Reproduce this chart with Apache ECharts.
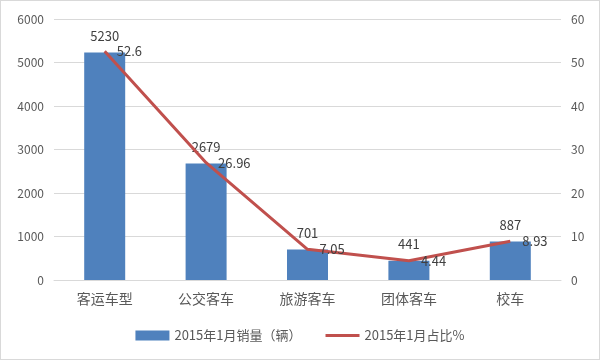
<!DOCTYPE html>
<html><head><meta charset="utf-8">
<script src="https://cdn.jsdelivr.net/npm/echarts@6/dist/echarts.min.js"></script>
<style>html,body{margin:0;padding:0;background:#fff}#c{width:600px;height:360px;box-sizing:border-box;border:1px solid #d9d9d9}</style>
</head><body><div id="c"></div>
<script>
var categories = ['客运车型','公交客车','旅游客车','团体客车','校车'];
var sales = [5230, 2679, 701, 441, 887];
var share = [52.6, 26.96, 7.05, 4.44, 8.93];
var chart = echarts.init(document.getElementById('c'));
var font = '"Microsoft YaHei","Noto Sans CJK SC",sans-serif';
chart.setOption({
  animation:false,
  textStyle:{fontFamily:font},
  grid:{left:53,right:38,top:18,bottom:79,containLabel:false},
  legend:{bottom:12,left:'center',itemGap:24,textStyle:{color:'#595959',fontSize:13,fontFamily:font},
    data:[{name:'2015年1月销量（辆）',icon:'rect'},
          {name:'2015年1月占比%',icon:'path://M0,0M0,3.5h35v3h-35zM35,10',itemStyle:{color:'#C0504D'}}],
    itemWidth:34,itemHeight:10},
  xAxis:{type:'category',data:categories,axisTick:{show:false},axisLine:{lineStyle:{color:'#d9d9d9'}},
    axisLabel:{color:'#595959',fontSize:14,margin:12,fontFamily:font}},
  yAxis:[
    {type:'value',min:0,max:6000,interval:1000,axisLine:{show:false},axisTick:{show:false},
      splitLine:{lineStyle:{color:'#d9d9d9'}},axisLabel:{color:'#595959',fontSize:12,margin:10,formatter:function(v){return String(v);}}},
    {type:'value',min:0,max:60,interval:10,axisLine:{show:false},axisTick:{show:false},
      splitLine:{show:false},axisLabel:{color:'#595959',fontSize:12,margin:10}}
  ],
  series:[
    {name:'2015年1月销量（辆）',type:'bar',data:sales,barWidth:41,itemStyle:{color:'#4F81BD'},
      label:{show:true,position:'top',distance:10,color:'#404040',fontSize:13}},
    {name:'2015年1月占比%',type:'line',yAxisIndex:1,data:share,symbol:'circle',symbolSize:0,showSymbol:true,
      lineStyle:{color:'#C0504D',width:3},itemStyle:{color:'#C0504D'},
      label:{show:true,position:'right',distance:12,color:'#404040',fontSize:13}}
  ]
});
</script></body></html>
